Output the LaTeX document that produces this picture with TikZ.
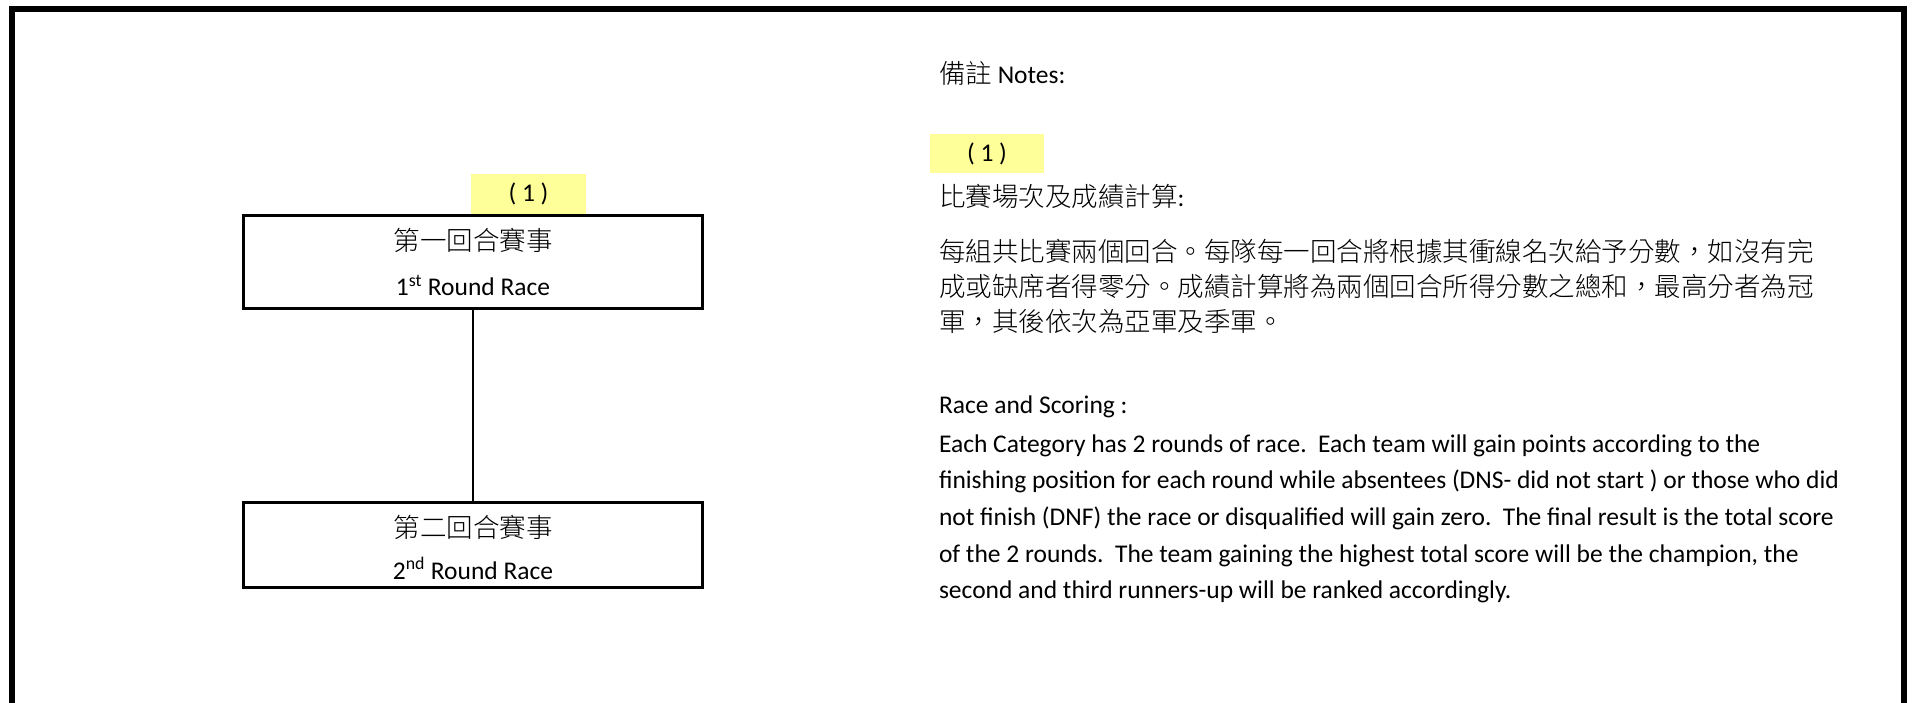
\documentclass[tikz,border=0pt]{standalone}
\usepackage{fontspec}
\setmainfont{Carlito}
\newfontfamily\cjk{Noto Sans CJK TC Light}
\definecolor{hlyellow}{HTML}{FFFF99}
\begin{document}
\begin{tikzpicture}[x=1pt,y=-1pt,
  every node/.style={inner sep=0pt, outer sep=0pt},
  etxt/.style={font=\fontsize{25.5}{30}\selectfont},
  ctxt/.style={font=\fontsize{26.5}{30}\selectfont\cjk},
  roundbox/.style={draw, line width=2.7pt, minimum width=459pt},
  hlbox/.style={fill=hlyellow, font=\fontsize{25.5}{30}\selectfont}]
\useasboundingbox (0,0) rectangle (1912,703);
\draw[line width=6pt] (12,9) rectangle (1904,740);
% left diagram
\node[hlbox, minimum width=115pt, minimum height=40pt] (mark1) at (528.5,194) {( 1 )};
\node[roundbox, minimum height=93.4pt] (r1) at (473,262) {};
\node[roundbox, minimum height=85.4pt] (r2) at (473,545) {};
\draw[line width=2.7pt] (r1.south) -- (r2.north);
\node[ctxt, anchor=base] (r1cn) at (473,251) {第一回合賽事};
\node[etxt, anchor=base] (r1en) at (473,296) {1\textsuperscript{st} Round Race};
\node[ctxt, anchor=base] (r2cn) at (473,537) {第二回合賽事};
\node[etxt, anchor=base] (r2en) at (473,579) {2\textsuperscript{nd} Round Race};
% notes
\node[etxt, anchor=base west] (notes) at (939,84) {{\cjk\fontsize{26.5}{30}\selectfont 備註} Notes:};
\node[hlbox, minimum width=114pt, minimum height=39pt] (mark2) at (987,153.5) {( 1 )};
\node[etxt, anchor=base west] (head) at (939,207) {{\cjk\fontsize{26.5}{30}\selectfont 比賽場次及成績計算}:};
\node[ctxt, anchor=base west] (c1) at (939,262) {每組共比賽兩個回合。每隊每一回合將根據其衝線名次給予分數，如沒有完};
\node[ctxt, anchor=base west] (c2) at (939,296.5) {成或缺席者得零分。成績計算將為兩個回合所得分數之總和，最高分者為冠};
\node[ctxt, anchor=base west] (c3) at (939,331) {軍，其後依次為亞軍及季軍。};
\node[etxt, anchor=base west] (rs) at (939,413) {Race and Scoring :};
\node[etxt, anchor=base west] (e1) at (939,452) {Each Category has 2 rounds of race.\ \ Each team will gain points according to the};
\node[etxt, anchor=base west] (e2) at (939,488.7) {finishing position for each round while absentees (DNS- did not start ) or those who did};
\node[etxt, anchor=base west] (e3) at (939,525.4) {not finish (DNF) the race or disqualified will gain zero.\ \ The final result is the total score};
\node[etxt, anchor=base west] (e4) at (939,562.1) {of the 2 rounds.\ \ The team gaining the highest total score will be the champion, the};
\node[etxt, anchor=base west] (e5) at (939,598.8) {second and third runners-up will be ranked accordingly.};
\end{tikzpicture}
\end{document}
